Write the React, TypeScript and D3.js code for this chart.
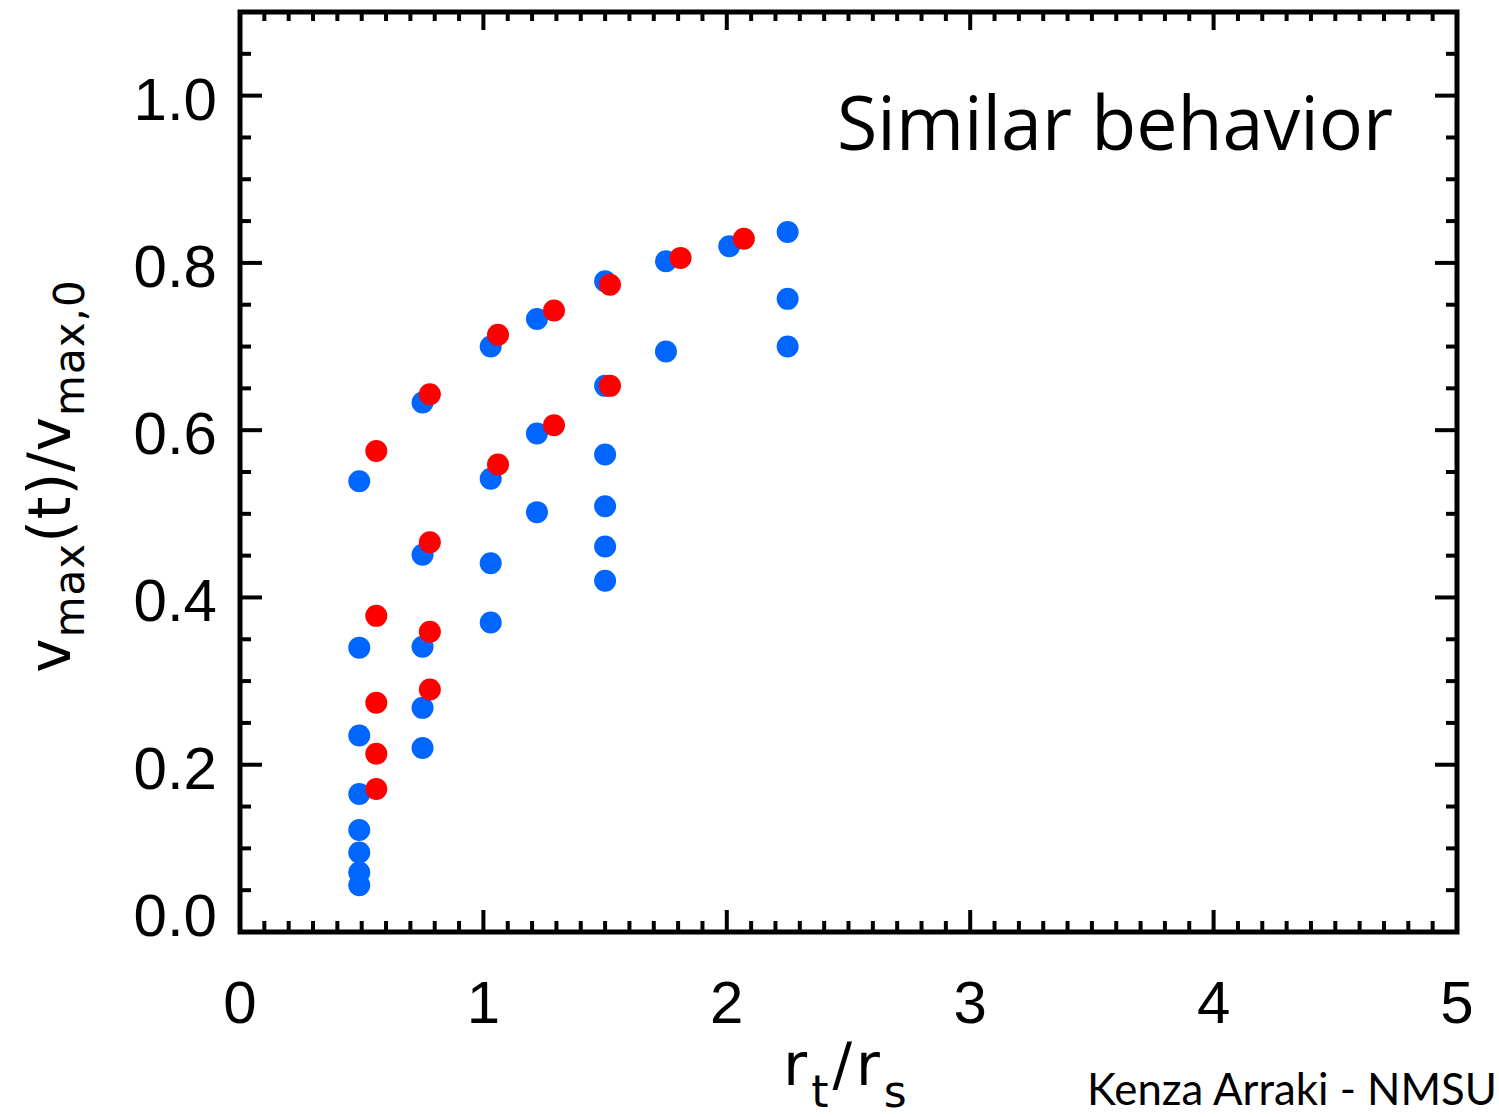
import React from "react";
import * as d3 from "d3";

const xTicks = [0, 1, 2, 3, 4, 5];
const yTicks = [0.0, 0.2, 0.4, 0.6, 0.8, 1.0];

const blueX = [0.49, 0.49, 0.49, 0.49, 0.49, 0.49, 0.49, 0.49, 0.75, 0.75, 0.75, 0.75, 0.75, 1.03, 1.03, 1.03, 1.03, 1.22, 1.22, 1.22, 1.5, 1.5, 1.5, 1.5, 1.5, 1.5, 1.75, 1.75, 2.01, 2.25, 2.25, 2.25];
const blueY = [0.539, 0.34, 0.235, 0.165, 0.122, 0.095, 0.071, 0.056, 0.633, 0.451, 0.341, 0.268, 0.22, 0.7, 0.542, 0.441, 0.37, 0.733, 0.596, 0.502, 0.778, 0.653, 0.571, 0.509, 0.461, 0.42, 0.802, 0.694, 0.82, 0.837, 0.757, 0.7];

const redX = [0.56, 0.56, 0.56, 0.56, 0.56, 0.78, 0.78, 0.78, 0.78, 1.06, 1.06, 1.29, 1.29, 1.52, 1.52, 1.81, 2.07];
const redY = [0.575, 0.378, 0.274, 0.213, 0.171, 0.643, 0.466, 0.359, 0.29, 0.714, 0.559, 0.743, 0.606, 0.774, 0.653, 0.806, 0.829];

const W = 1499, H = 1117;
const L = 240, R = 1457, T = 12, B = 932;

export default function App() {
  const x = d3.scaleLinear().domain([0, 5]).range([L, R]);
  const y = d3.scaleLinear().domain([0, 1.1]).range([B, T]);
  const xMinor = d3.range(0, 50).map((i) => i / 10).filter((v) => Math.abs(v - Math.round(v)) > 1e-6);
  const yMinor = d3.range(0, 23).map((i) => i * 0.05).filter((v) => v <= 1.1 && Math.abs(v * 5 - Math.round(v * 5)) > 1e-6);
  const MAJ = 22, MIN = 11;
  const sw = 4;
  const tickFont = "'Liberation Sans', Arial, sans-serif";
  const titleFont = "'DejaVu Sans', sans-serif";
  const blue = d3.zip(blueX, blueY);
  const red = d3.zip(redX, redY);

  return (
    <svg width={W} height={H} style={{ position: "absolute", left: 0, top: 0, background: "#fff" }}>
      <rect x={0} y={0} width={W} height={H} fill="#fff" />
      {blue.map(([a, b], i) => (
        <circle key={"b" + i} cx={x(a)} cy={y(b)} r={11} fill="#0066ff" />
      ))}
      {red.map(([a, b], i) => (
        <circle key={"r" + i} cx={x(a)} cy={y(b)} r={11} fill="#ff0000" />
      ))}
      <g stroke="#000" strokeWidth={sw}>
        {xTicks.map((t) => (
          <g key={"xt" + t}>
            <line x1={x(t)} x2={x(t)} y1={B} y2={B - MAJ} />
            <line x1={x(t)} x2={x(t)} y1={T} y2={T + 18} />
          </g>
        ))}
        {xMinor.map((t) => (
          <g key={"xm" + t}>
            <line x1={x(t)} x2={x(t)} y1={B} y2={B - MIN} />
            <line x1={x(t)} x2={x(t)} y1={T} y2={T + 9} />
          </g>
        ))}
        {yTicks.map((t) => (
          <g key={"yt" + t}>
            <line x1={L} x2={L + MAJ} y1={y(t)} y2={y(t)} />
            <line x1={R} x2={R - MAJ} y1={y(t)} y2={y(t)} />
          </g>
        ))}
        {yMinor.map((t) => (
          <g key={"ym" + t}>
            <line x1={L} x2={L + MIN} y1={y(t)} y2={y(t)} />
            <line x1={R} x2={R - MIN} y1={y(t)} y2={y(t)} />
          </g>
        ))}
      </g>
      <rect x={L} y={T} width={R - L} height={B - T} fill="none" stroke="#000" strokeWidth={5} />
      {xTicks.map((t) => (
        <text key={"xl" + t} x={x(t)} y={1023} textAnchor="middle" fontFamily={tickFont} fontSize={60} fill="#000">
          {d3.format("d")(t)}
        </text>
      ))}
      {yTicks.map((t) => (
        <text key={"yl" + t} x={217} y={y(t) + 24 - (t === 0 ? 20 : 0)} textAnchor="end" fontFamily={tickFont} fontSize={60} fill="#000">
          {d3.format(".1f")(t)}
        </text>
      ))}
      <text transform="translate(70,476) rotate(-90)" textAnchor="middle" fontFamily={titleFont} fontSize={58} fill="#000" letterSpacing={1}>
        <tspan>v</tspan>
        <tspan fontSize={42} dy={14}>max</tspan>
        <tspan dy={-14}>(t)/v</tspan>
        <tspan fontSize={42} dy={14}>max,0</tspan>
      </text>
      <text x={847} y={1085} textAnchor="middle" fontFamily={titleFont} fontSize={58} fill="#000" letterSpacing={4}>
        <tspan>r</tspan>
        <tspan fontSize={44} dy={22}>t</tspan>
        <tspan dy={-22}>/r</tspan>
        <tspan fontSize={44} dy={22}>s</tspan>
      </text>
      <text x={837} y={150} fontFamily="'Open Sans', sans-serif" fontSize={75} fill="#000" textLength={556} lengthAdjust="spacingAndGlyphs">
        Similar behavior
      </text>
      <text x={1087} y={1105} fontFamily="Lato, sans-serif" fontSize={44} fill="#000" textLength={410} lengthAdjust="spacingAndGlyphs">
        Kenza Arraki - NMSU
      </text>
    </svg>
  );
}
